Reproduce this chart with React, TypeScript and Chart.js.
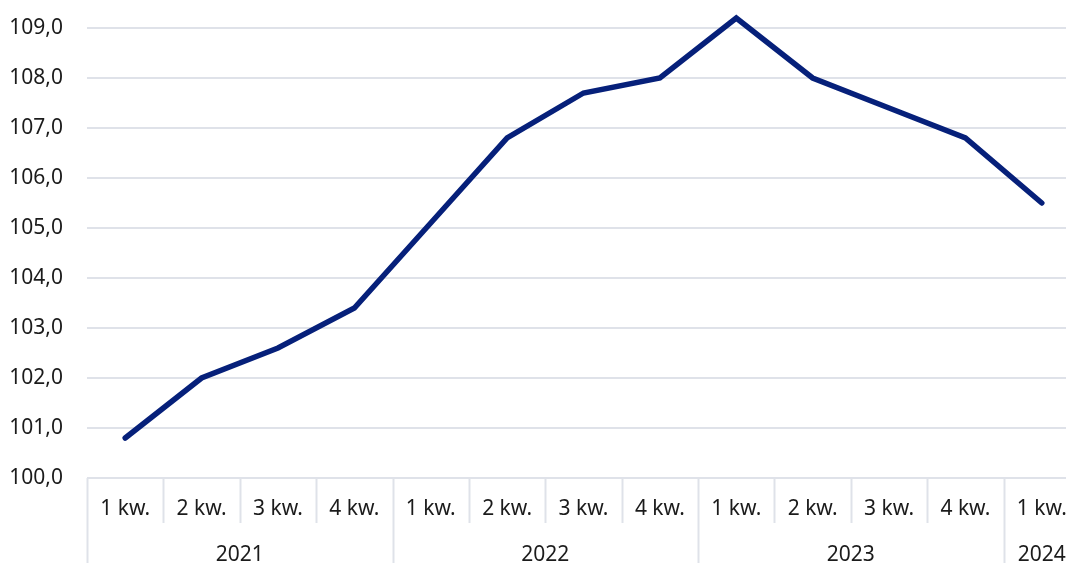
import React, { useEffect, useRef } from "react";
import { Chart, registerables } from "chart.js";

Chart.register(...registerables);

const quarterLabels = ["1 kw.", "2 kw.", "3 kw.", "4 kw.", "1 kw.", "2 kw.", "3 kw.", "4 kw.", "1 kw.", "2 kw.", "3 kw.", "4 kw.", "1 kw."];
const yearLabels = ["2021", "2022", "2023", "2024"];
const quartersPerYear = [4, 4, 4, 1];
const values = [100.8, 102.0, 102.6, 103.4, 105.1, 106.8, 107.7, 108.0, 109.2, 108.0, 107.4, 106.8, 105.5];
const yMin = 100;
const yMax = 109.5;

const FONT = "'Noto Sans', 'Open Sans', sans-serif";
const TEXT = "#1b1b1b";
const GRID = "#dfe2e9";
const LINE = "#06207a";

const twoLevelAxis = {
  id: "twoLevelAxis",
  afterDraw(chart: any) {
    const ctx = chart.ctx;
    const x = chart.scales.x;
    const area = chart.chartArea;
    const bottom = chart.height;
    const n = quarterLabels.length;
    ctx.save();
    ctx.strokeStyle = GRID;
    ctx.lineWidth = 2;
    const yearStarts: number[] = [];
    let acc = 0;
    quartersPerYear.forEach((q) => {
      yearStarts.push(acc);
      acc += q;
    });
    for (let i = 0; i <= n; i++) {
      const px = Math.round(x.getPixelForValue(i - 0.5)) + 0.5;
      const isYear = yearStarts.includes(i);
      ctx.beginPath();
      ctx.moveTo(px, area.bottom);
      ctx.lineTo(px, isYear ? bottom : area.bottom + 45);
      ctx.stroke();
    }
    ctx.fillStyle = TEXT;
    ctx.font = `21px ${FONT}`;
    ctx.textAlign = "center";
    ctx.textBaseline = "middle";
    quarterLabels.forEach((lab, i) => {
      ctx.fillText(lab, x.getPixelForValue(i), area.bottom + 31);
    });
    yearLabels.forEach((lab, k) => {
      const s = yearStarts[k];
      const e = s + quartersPerYear[k];
      const cx = (x.getPixelForValue(s - 0.5) + x.getPixelForValue(e - 0.5)) / 2;
      ctx.fillText(lab, cx, area.bottom + 77);
    });
    ctx.restore();
  },
};

export default function App() {
  const ref = useRef<HTMLCanvasElement>(null);
  useEffect(() => {
    document.body.style.margin = "0";
    document.body.style.overflow = "hidden";
    const canvas = ref.current!;
    const chart = new Chart(canvas, {
      type: "line",
      data: {
        labels: quarterLabels,
        datasets: [
          {
            data: values,
            borderColor: LINE,
            borderWidth: 5.5,
            pointRadius: 0,
            tension: 0,
            borderCapStyle: "round",
            borderJoinStyle: "miter",
            clip: false,
          } as any,
        ],
      },
      options: {
        animation: false,
        responsive: false,
        layout: { autoPadding: false, padding: { top: 3, left: 0, right: 0, bottom: 0 } },
        plugins: { legend: { display: false }, tooltip: { enabled: false } },
        scales: {
          x: {
            offset: true,
            grid: { display: false },
            border: { display: false },
            ticks: { display: false },
            afterFit(scale: any) {
              scale.height = 85;
              scale.paddingLeft = 0;
              scale.paddingRight = 0;
            },
          },
          y: {
            min: yMin,
            max: yMax,
            border: { display: false },
            grid: { color: GRID, lineWidth: 2, drawTicks: false },
            ticks: {
              stepSize: 1,
              padding: 24,
              color: TEXT,
              font: { family: FONT, size: 21 },
              callback: (v: any) => Number(v).toFixed(1).replace(".", ","),
            },
            afterBuildTicks(scale: any) {
              scale.ticks = scale.ticks.filter((t: any) => Math.abs(t.value - Math.round(t.value)) < 1e-6);
            },
            afterFit(scale: any) {
              scale.width = 87;
              scale.paddingTop = 0;
              scale.paddingBottom = 0;
            },
          },
        },
      },
      plugins: [twoLevelAxis],
    });
    return () => chart.destroy();
  }, []);
  return (
    <canvas
      ref={ref}
      width={1080}
      height={563}
      style={{ position: "absolute", left: 0, top: 0, display: "block" }}
    />
  );
}
